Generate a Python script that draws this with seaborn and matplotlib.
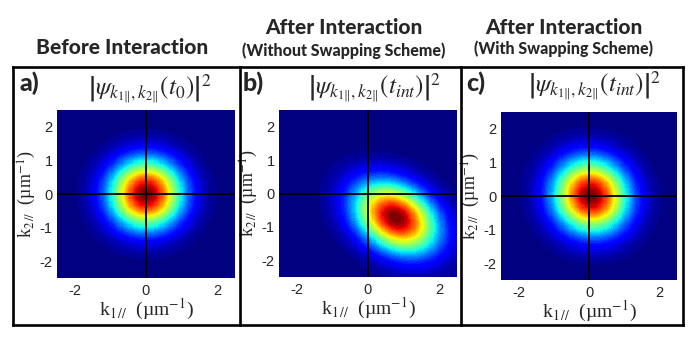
import numpy as np
import pandas as pd
import matplotlib
matplotlib.use("Agg")
import matplotlib.pyplot as plt
import seaborn as sns
from matplotlib.lines import Line2D

# Gaussian wave-packet parameters (k in um^-1)
panel_tags = ["a)", "b)", "c)"]
headers = ["Before Interaction", "After Interaction", "After Interaction"]
subheaders = ["", "(Without Swapping Scheme)", "(With Swapping Scheme)"]
times = ["t_0", "t_{int}", "t_{int}"]
center_k1 = [0.0, 0.78, 0.05]
center_k2 = [0.0, -0.72, 0.0]
sigma_k1 = [0.70, 0.78, 0.72]
sigma_k2 = [0.70, 0.72, 0.74]
corr = [0.0, -0.30, -0.05]
k_ticks = [-2, 0, 2]
k2_ticks = [-2, -1, 0, 1, 2]
k_lim = 2.5
n_grid = 160

sns.set_style("white")
plt.rcParams["mathtext.fontset"] = "stix"

W, H = 696, 338
fig = plt.figure(figsize=(W / 100, H / 100), dpi=100)

def fx(px):
    return px / W

def fy(py):
    return 1 - py / H

# axes boxes in pixels: left, top, right, bottom
ax_px = [(57, 110, 235, 278), (279, 110, 457, 277), (501, 112, 677, 280)]
hdr_x = [122, 344, 564]
hdr_y = [47, 28, 27]
sub_y = [0, 51, 49]
tag_x = [19, 243, 466]
title_x = [150, 375, 595]
title_y = [89, 88, 86]

dk = 2 * k_lim / n_grid
k = -k_lim + dk * (np.arange(n_grid) + 0.5)
K1, K2 = np.meshgrid(k, k[::-1])  # first row = top (k2 = +2.5)

def pos1(v):
    return (v + k_lim) / dk

def pos2(v):
    return (k_lim - v) / dk

cmap = plt.get_cmap("jet", 48)

for i in range(3):
    l, t, r, b = ax_px[i]
    ax = fig.add_axes([fx(l), fy(b), fx(r - l), (b - t) / H])
    x = (K1 - center_k1[i]) / sigma_k1[i]
    y = (K2 - center_k2[i]) / sigma_k2[i]
    p = corr[i]
    z = np.exp(-(x ** 2 - 2 * p * x * y + y ** 2) / (2 * (1 - p ** 2)))
    df = pd.DataFrame(z)
    sns.heatmap(df, ax=ax, cmap=cmap, vmin=0, vmax=z.max(), cbar=False,
                xticklabels=False, yticklabels=False, rasterized=True)
    ax.axvline(pos1(0), color="black", lw=1.3)
    ax.axhline(pos2(0), color="black", lw=1.3)
    ax.set_xticks([pos1(v) for v in k_ticks])
    ax.set_xticklabels([str(v) for v in k_ticks], family="Liberation Sans", fontsize=10.5)
    ax.set_yticks([pos2(v) for v in k2_ticks])
    ax.set_yticklabels([str(v) for v in k2_ticks], family="Liberation Sans", fontsize=10.5, rotation=0)
    ax.tick_params(length=0, pad=3)
    ax.tick_params(axis="x", pad=4)
    ax.set_xlabel("k$_{1\\,//}$  (µm$^{-1}$)", family="Liberation Serif", fontsize=14)
    ax.set_ylabel("k$_{2\\,//}$  (µm$^{-1}$)", family="Liberation Serif", fontsize=13)
    ax.xaxis.set_label_coords(0.5, -19 / (b - t))
    ax.yaxis.set_label_coords(-18.5 / (r - l), 0.5)
    for s in ax.spines.values():
        s.set_visible(False)

    fig.text(fx(hdr_x[i]), fy(hdr_y[i]), headers[i], family="Lato", weight="black",
             fontsize=15, ha="center", va="center")
    if subheaders[i]:
        fig.text(fx(hdr_x[i]), fy(sub_y[i]), subheaders[i], family="Lato", weight="black",
                 fontsize=11.5, ha="center", va="center")
    fig.text(fx(tag_x[i]), fy(83), panel_tags[i], family="Lato", weight="black",
             fontsize=18, ha="left", va="center")
    fig.text(fx(title_x[i]), fy(title_y[i]),
             r"$\left|\psi_{k_{1\|},k_{2\|}}(" + times[i] + r")\right|^2$",
             fontsize=18, ha="center", va="center")

# panel frames
lw = 1.9
for xs, ys in [((13, 683), (67, 67)), ((13, 683), (325, 325)),
               ((13, 13), (67, 325)), ((683, 683), (67, 325)),
               ((240, 240), (67, 325)), ((461, 461), (67, 325))]:
    fig.add_artist(Line2D([fx(xs[0]), fx(xs[1])], [fy(ys[0]), fy(ys[1])],
                          transform=fig.transFigure, color="black", lw=lw,
                          solid_capstyle="projecting"))

fig.savefig("out.png", dpi=100)
